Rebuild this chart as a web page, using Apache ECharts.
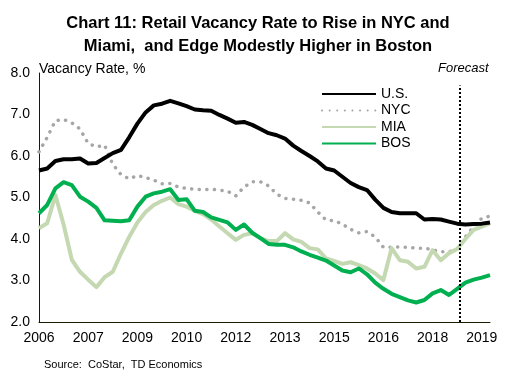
<!DOCTYPE html>
<html>
<head>
<meta charset="utf-8">
<script src="https://cdn.jsdelivr.net/npm/echarts@6/dist/echarts.min.js"></script>
<style>
html,body{margin:0;padding:0;background:#fff;}
#c{width:516px;height:384px;}
</style>
</head>
<body>
<div id="c"></div>
<script>
// Quarterly categories 2006Q1 .. 2019Q4
var quarters = [];
for (var y = 2006; y <= 2019; y++) { for (var q = 1; q <= 4; q++) quarters.push(y + 'Q' + q); }

var usData = [5.65,5.70,5.88,5.92,5.92,5.94,5.82,5.83,5.95,6.07,6.15,6.45,6.78,7.05,7.22,7.26,
  7.33,7.27,7.20,7.12,7.10,7.09,6.99,6.90,6.80,6.82,6.75,6.65,6.55,6.50,6.42,6.25,
  6.12,6.00,5.87,5.70,5.65,5.50,5.35,5.25,5.18,4.95,4.75,4.65,4.62,4.62,4.62,4.47,
  4.48,4.47,4.42,4.37,4.35,4.36,4.37,4.40];
var nycData = [6.10,6.45,6.85,6.88,6.80,6.65,6.30,6.22,6.26,5.80,5.55,5.45,5.53,5.48,5.42,5.33,
  5.34,5.25,5.22,5.20,5.19,5.20,5.18,5.15,5.04,5.25,5.38,5.38,5.28,5.08,4.98,4.96,
  4.93,4.87,4.65,4.46,4.44,4.36,4.23,4.15,4.18,4.05,3.80,3.80,3.81,3.80,3.78,3.78,
  3.74,3.69,3.69,3.76,4.05,4.30,4.50,4.55];
var miaData = [4.26,4.38,5.06,4.35,3.50,3.21,3.02,2.84,3.08,3.21,3.65,4.05,4.40,4.65,4.82,4.92,
  5.00,4.84,4.78,4.68,4.60,4.47,4.30,4.14,3.98,4.10,4.14,4.02,3.95,3.95,4.14,3.99,
  3.93,3.78,3.75,3.53,3.47,3.40,3.44,3.37,3.29,3.17,3.01,3.78,3.49,3.45,3.29,3.33,
  3.73,3.49,3.66,3.76,4.00,4.22,4.30,4.38];
var bosData = [4.62,4.82,5.22,5.37,5.30,5.02,4.90,4.75,4.45,4.44,4.43,4.45,4.78,5.02,5.10,5.14,
  5.20,4.94,4.96,4.68,4.65,4.52,4.46,4.40,4.22,4.35,4.15,4.02,3.88,3.86,3.86,3.80,
  3.70,3.62,3.55,3.48,3.36,3.24,3.20,3.29,3.15,2.95,2.80,2.68,2.60,2.52,2.47,2.53,
  2.69,2.77,2.65,2.80,2.95,3.02,3.07,3.13];
var forecastStart = 51.3; // position (in quarter index) of the forecast divider
var yTicks = ['2.0','3.0','4.0','5.0','6.0','7.0','8.0'];

var font = 'Arial, "Liberation Sans", sans-serif';
var chart = echarts.init(document.getElementById('c'), null, {renderer: 'canvas'});
chart.setOption({
  animation: false,
  backgroundColor: '#ffffff',
  textStyle: {fontFamily: font},
  title: [
    {text: 'Chart 11: Retail Vacancy Rate to Rise in NYC and\nMiami,  and Edge Modestly Higher in Boston',
     left: 'center', top: 7,
     textStyle: {fontFamily: font, fontSize: 16.5, fontWeight: 'bold', color: '#000', lineHeight: 23, align: 'center'}},
    {text: 'Vacancy Rate, %', left: 34, top: 57,
     textStyle: {fontFamily: font, fontSize: 14, fontWeight: 'normal', color: '#000'}},
    {text: 'Forecast', left: 433, top: 57,
     textStyle: {fontFamily: font, fontSize: 13, fontWeight: 'normal', fontStyle: 'italic', color: '#000'}},
    {text: 'Source:  CoStar,  TD Economics', left: 39, top: 354,
     textStyle: {fontFamily: font, fontSize: 11, fontWeight: 'normal', color: '#000'}}
  ],
  legend: {
    orient: 'vertical', left: 321, top: 87, padding: 0,
    itemWidth: 54, itemHeight: 12, itemGap: 2.5,
    itemStyle: {opacity: 0},
    textStyle: {fontFamily: font, fontSize: 14, color: '#000'},
    data: ['U.S.', 'NYC', 'MIA', 'BOS']
  },
  grid: {left: 39, right: 26, top: 73, bottom: 62, containLabel: false},
  xAxis: [{
    type: 'category', data: quarters, boundaryGap: false,
    axisLine: {lineStyle: {color: '#1a1a00', width: 1}},
    axisTick: {show: false},
    axisLabel: {interval: 5, fontFamily: font, fontSize: 14, color: '#000', margin: 9,
      formatter: function (v) { return v.slice(0, 4); }},
    splitLine: {show: false}
  }, {
    type: 'value', min: 0, max: quarters.length - 1, show: false
  }],
  yAxis: {
    type: 'value', min: 2, max: 8, interval: 1, offset: 3,
    axisLine: {show: true, lineStyle: {color: '#1a1a00', width: 1}},
    axisTick: {show: false},
    splitLine: {show: false},
    axisLabel: {fontFamily: font, fontSize: 14, color: '#000', margin: 6,
      formatter: function (v) { return yTicks[Math.round(v - 2)]; }}
  },
  series: [
    {name: 'U.S.', type: 'line', data: usData, symbol: 'none', z: 5,
     lineStyle: {color: '#000000', width: 4, join: 'round'}, itemStyle: {color: '#000000'}},
    {name: 'NYC', type: 'line', data: nycData, symbol: 'none', z: 2,
     lineStyle: {color: '#a6a6a6', width: 3.5, type: [0.1, 7.5], cap: 'round'}, itemStyle: {color: '#a6a6a6'}},
    {name: 'MIA', type: 'line', data: miaData, symbol: 'none', z: 3,
     lineStyle: {color: '#c4d8b2', width: 4, join: 'round'}, itemStyle: {color: '#c4d8b2'}},
    {name: 'BOS', type: 'line', data: bosData, symbol: 'none', z: 4,
     lineStyle: {color: '#00b050', width: 4, join: 'round'}, itemStyle: {color: '#00b050'}},
    {type: 'line', xAxisIndex: 1, data: [], silent: true,
     markLine: {symbol: 'none', silent: true, label: {show: false},
       lineStyle: {color: '#000', width: 2, type: [2, 2]},
       data: [[{coord: [forecastStart, 2]}, {coord: [forecastStart, 7.7]}]]}}
  ]
});
</script>
</body>
</html>
